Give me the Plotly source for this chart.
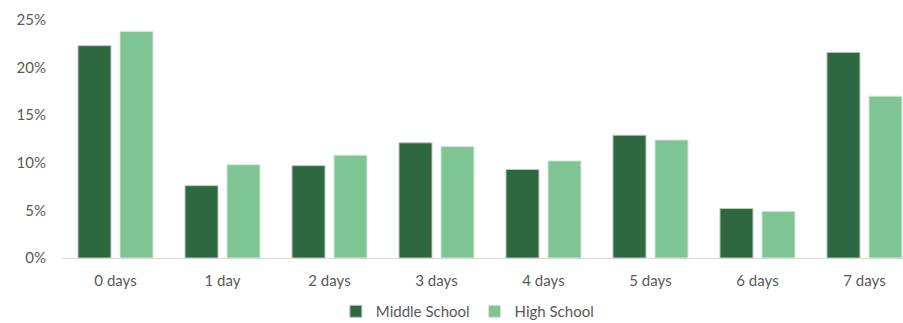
import plotly.graph_objects as go

categories = ["0 days", "1 day", "2 days", "3 days", "4 days", "5 days", "6 days", "7 days"]
middle_school = [22.3, 7.6, 9.7, 12.1, 9.3, 12.9, 5.2, 21.6]
high_school = [23.8, 9.8, 10.8, 11.7, 10.2, 12.4, 4.9, 17.0]
y_ticks = [0, 5, 10, 15, 20, 25]
y_tick_labels = ["0%", "5%", "10%", "15%", "20%", "25%"]

FONT = "Lato, 'Open Sans', sans-serif"
TEXT = "#595959"

fig = go.Figure()
fig.add_trace(go.Bar(
    name="Middle School", x=categories, y=middle_school,
    marker=dict(color="#2E6840", line=dict(color="#BFC9C2", width=1)),
))
fig.add_trace(go.Bar(
    name="High School", x=categories, y=high_school,
    marker=dict(color="#7FC594", line=dict(color="#D4E9DA", width=1)),
))

fig.update_layout(
    width=903, height=323,
    margin=dict(l=62, r=0, t=20, b=65, autoexpand=False),
    paper_bgcolor="white", plot_bgcolor="white",
    barmode="group", bargap=0.215, bargroupgap=0.214,
    font=dict(family=FONT, size=14, color=TEXT),
    legend=dict(orientation="h", x=0.482, xanchor="center",
                y=-0.225, yanchor="middle",
                font=dict(family=FONT, size=15, color=TEXT),
                itemwidth=30, traceorder="normal"),
    xaxis=dict(range=[-0.5, 7.36], showgrid=False, showline=True, linecolor="#D9D9D9",
               linewidth=1, ticks="", tickfont=dict(size=15, color=TEXT),
               ticklabelstandoff=9),
    yaxis=dict(range=[0, 25], tickvals=y_ticks, ticktext=y_tick_labels, showgrid=False,
               zeroline=False, showline=False, ticks="", tickfont=dict(size=15, color=TEXT),
               ticklabelstandoff=15),
)

fig.write_html("out.html")
